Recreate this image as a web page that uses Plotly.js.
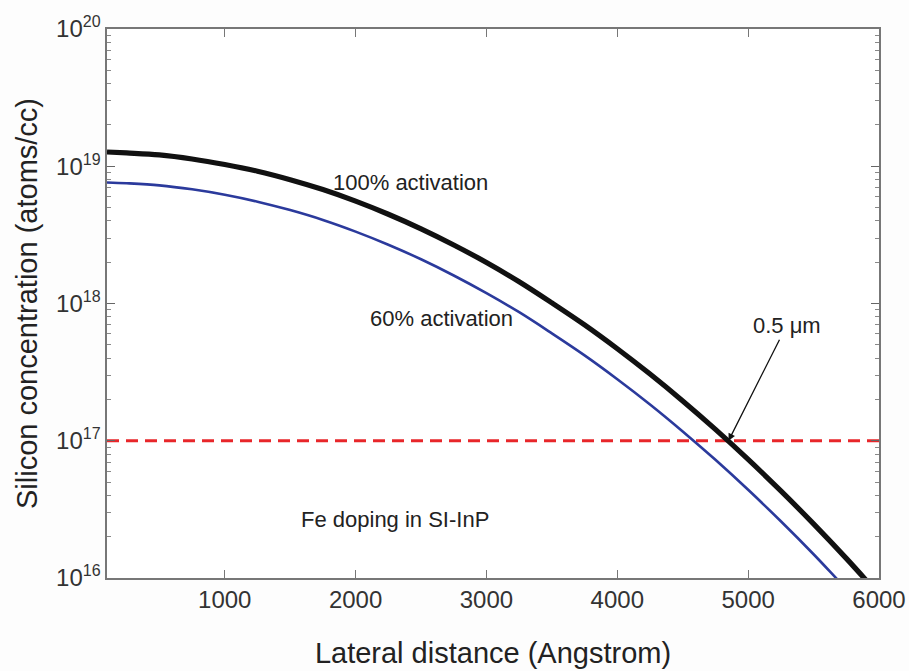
<!DOCTYPE html>
<html>
<head>
<meta charset="utf-8">
<script src="https://cdn.plot.ly/plotly-3.0.1.min.js"></script>
<style>html,body{margin:0;padding:0;background:#fff;}</style>
</head>
<body>
<div id="chart" style="width:909px;height:671px;"></div>
<script>
// Lateral distance (Angstrom)
const distance = [100, 250, 500, 750, 1000, 1250, 1500, 1750, 2000, 2250, 2500, 2750, 3000,
  3250, 3500, 3750, 4000, 4250, 4500, 4750, 5000, 5250, 5500, 5750, 5900];
// Silicon concentration, 100% activation (atoms/cc)
const full = [1.27e19, 1.25e19, 1.21e19, 1.13e19, 1.03e19, 9.20e18, 7.98e18, 6.76e18, 5.57e18,
  4.47e18, 3.50e18, 2.67e18, 1.99e18, 1.44e18, 1.01e18, 6.98e17, 4.68e17, 3.06e17, 1.95e17,
  1.21e17, 7.31e16, 4.31e16, 2.48e16, 1.39e16, 9.66e15];
// Silicon concentration, 60% activation (atoms/cc)
const partial = [7.62e18, 7.52e18, 7.26e18, 6.79e18, 6.20e18, 5.52e18, 4.79e18, 4.06e18, 3.34e18,
  2.68e18, 2.10e18, 1.60e18, 1.19e18, 8.64e17, 6.06e17, 4.19e17, 2.81e17, 1.84e17, 1.17e17,
  7.26e16, 4.39e16, 2.59e16, 1.49e16, 8.34e15, 6.0e15];
// Fe doping level in SI-InP
const feX = [100, 6000];
const feY = [1e17, 1e17];
const xTicks = [1000, 2000, 3000, 4000, 5000, 6000];
const yTicks = [1e16, 1e17, 1e18, 1e19, 1e20];
const yExp = ['16', '17', '18', '19', '20'];

const traces = [
  {x: feX, y: feY, mode: 'lines', line: {color: '#e8262a', width: 3.2, dash: '12px,7px'}, hoverinfo: 'skip'},
  {x: distance, y: partial, mode: 'lines', line: {color: '#2b3a9c', width: 2.6, shape: 'spline'}},
  {x: distance, y: full, mode: 'lines', line: {color: '#111111', width: 5.2, shape: 'spline'}}
];

const tickFont = {family: 'Liberation Sans, Arial, sans-serif', size: 24, color: '#333'};
const txtFont = {family: 'Liberation Sans, Arial, sans-serif', size: 22, color: '#222'};
const titleFont = {family: 'Liberation Sans, Arial, sans-serif', size: 29, color: '#222'};

const layout = {
  width: 909, height: 671,
  margin: {l: 107, r: 30, t: 29, b: 93},
  paper_bgcolor: '#fdfdfd', plot_bgcolor: '#ffffff',
  showlegend: false,
  xaxis: {
    range: [100, 6000], tickvals: xTicks, ticktext: xTicks.map(String),
    ticks: 'inside', ticklen: 8, tickwidth: 1.2, tickcolor: '#777',
    showline: true, linecolor: '#777', linewidth: 1.6, mirror: 'ticks',
    showgrid: false, zeroline: false, ticklabeloverflow: 'allow',
    tickfont: tickFont,
    title: {text: 'Lateral distance (Angstrom)', font: titleFont, standoff: 30}
  },
  yaxis: {
    type: 'log', range: [16, 20], tickvals: yTicks,
    ticktext: yExp.map(e => '10<sup><span style="font-size:16px">' + e + '</span></sup>'),
    ticks: 'inside', ticklen: 8, tickwidth: 1.2, tickcolor: '#666',
    minor: {ticks: 'inside', ticklen: 4, dtick: 'D1', tickcolor: '#888', tickwidth: 1, showgrid: false},
    showline: true, linecolor: '#777', linewidth: 1.6, mirror: 'ticks',
    showgrid: false, zeroline: false,
    tickfont: tickFont,
    title: {text: 'Silicon concentration (atoms/cc)', font: titleFont, standoff: 10}
  },
  annotations: [
    {xref: 'paper', yref: 'paper', x: (410 - 107) / 772, y: (578 - 182) / 549, xanchor: 'center', yanchor: 'middle',
     text: '100% activation', showarrow: false, font: txtFont},
    {xref: 'paper', yref: 'paper', x: (441 - 107) / 772, y: (578 - 318) / 549, xanchor: 'center', yanchor: 'middle',
     text: '60% activation', showarrow: false, font: txtFont},
    {xref: 'paper', yref: 'paper', x: (395 - 107) / 772, y: (578 - 519) / 549, xanchor: 'center', yanchor: 'middle',
     text: 'Fe doping in SI-InP', showarrow: false, font: txtFont},
    {xref: 'x', yref: 'y', x: 4850, y: 17, text: '0.5 μm', showarrow: true,
     ax: 58, ay: -115, arrowhead: 2, arrowsize: 1.1, arrowwidth: 1.3, arrowcolor: '#111', font: txtFont}
  ]
};

Plotly.newPlot('chart', traces, layout, {displayModeBar: false, staticPlot: true});
</script>
</body>
</html>
